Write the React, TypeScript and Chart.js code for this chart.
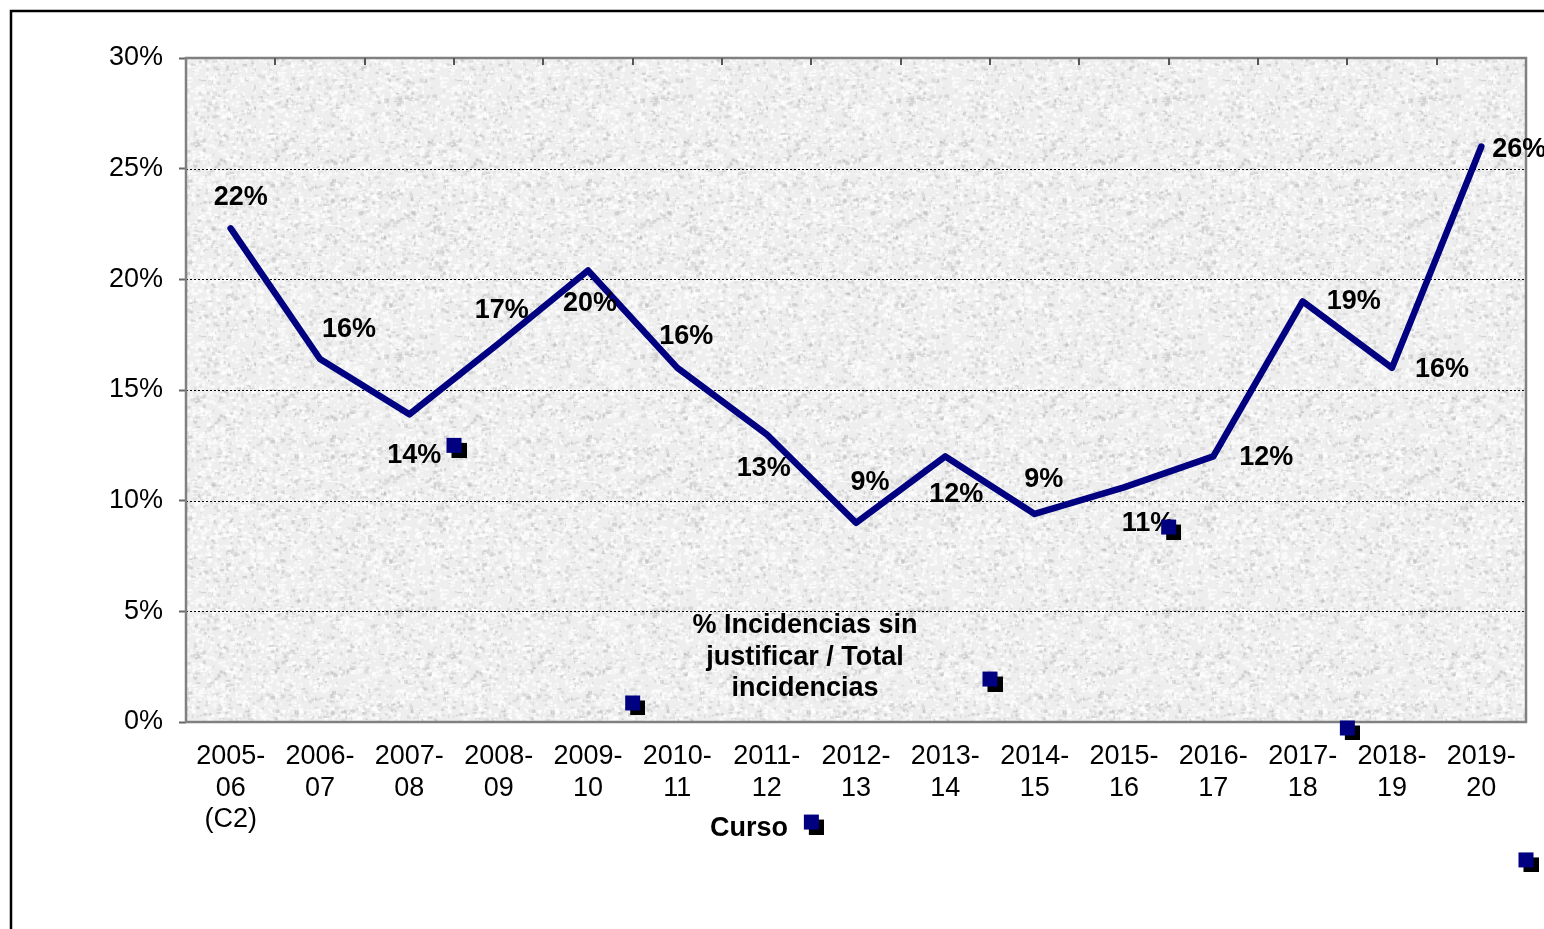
import React, { useEffect, useRef } from 'react';
import { Chart, registerables } from 'chart.js';

Chart.register(...registerables);

// ---- data ----
const categories: string[][] = [
  ['2005-', '06', '(C2)'],
  ['2006-', '07'],
  ['2007-', '08'],
  ['2008-', '09'],
  ['2009-', '10'],
  ['2010-', '11'],
  ['2011-', '12'],
  ['2012-', '13'],
  ['2013-', '14'],
  ['2014-', '15'],
  ['2015-', '16'],
  ['2016-', '17'],
  ['2017-', '18'],
  ['2018-', '19'],
  ['2019-', '20'],
];
const pctValues = [22.3, 16.4, 13.9, 17.1, 20.4, 16.0, 13.0, 9.0, 12.0, 9.4, 10.6, 12.0, 19.0, 16.0, 26.0];
const yTickValues = [0, 5, 10, 15, 20, 25, 30];
// stray legend-key squares (Excel artefacts), in category-index / percent units
const markerX = [2.5, 4.5, 6.5, 8.5, 10.5, 12.5, 14.5];
const markerY = [12.5, 0.86, -4.52, 1.94, 8.81, -0.27, -6.23];
const yTitleLines = ['% Incidencias sin', 'justificar / Total', 'incidencias'];
const xTitle = 'Curso';

// ---- layout (label offsets from their points, in px) ----
const labelOffsets: number[][] = [
  [10, -31], [29, -29], [5, 41], [3, -33], [2, 33], [9, -31], [-3, 34], [14, -40],
  [11, 38], [9, -34], [24, 36], [53, 1], [51, 0], [50, 2], [38, 3],
];

const FONT = '"Liberation Sans", Arial, sans-serif';

function makeTexture(): HTMLCanvasElement {
  const c = document.createElement('canvas');
  c.width = 256;
  c.height = 256;
  const g = c.getContext('2d')!;
  g.fillStyle = '#eeeeee';
  g.fillRect(0, 0, 256, 256);
  let s = 97;
  const rnd = () => {
    s = (s * 16807) % 2147483647;
    return s / 2147483647;
  };
  for (let i = 0; i < 5000; i++) {
    const x = rnd() * 256;
    const y = rnd() * 256;
    const r = rnd();
    if (r < 0.65) g.fillStyle = 'rgba(255,255,255,0.65)';
    else if (r < 0.92) g.fillStyle = 'rgba(190,190,190,0.35)';
    else g.fillStyle = 'rgba(150,150,150,0.3)';
    g.fillRect(x, y, 1 + rnd() * 4, 1 + rnd() * 3);
  }
  return c;
}

function makeMarker(): HTMLCanvasElement {
  const c = document.createElement('canvas');
  c.width = 25;
  c.height = 25;
  const g = c.getContext('2d')!;
  g.fillStyle = '#000000';
  g.fillRect(10, 10, 15, 15);
  g.fillStyle = '#000080';
  g.fillRect(5, 5, 15, 15);
  return c;
}

export default function App() {
  const ref = useRef<HTMLCanvasElement | null>(null);

  useEffect(() => {
    document.body.style.margin = '0';
    const canvas = ref.current!;
    const texture = makeTexture();
    const marker = makeMarker();

    const decor = {
      id: 'decor',
      beforeDraw(chart: any) {
        const { ctx, width, height } = chart;
        const { left, top, right, bottom } = chart.chartArea;
        ctx.save();
        ctx.fillStyle = '#ffffff';
        ctx.fillRect(0, 0, width, height);
        ctx.strokeStyle = '#000000';
        ctx.lineWidth = 2.5;
        ctx.beginPath();
        ctx.moveTo(11, height);
        ctx.lineTo(11, 11);
        ctx.lineTo(width, 11);
        ctx.stroke();
        const pat = ctx.createPattern(texture, 'repeat');
        ctx.fillStyle = pat || '#eeeeee';
        ctx.fillRect(left, top, right - left, bottom - top);
        ctx.restore();
      },
      beforeDatasetsDraw(chart: any) {
        const { ctx } = chart;
        const { left, top, right, bottom } = chart.chartArea;
        const ys = chart.scales.y;
        const xs = chart.scales.x;
        ctx.save();
        // dotted gridlines
        ctx.strokeStyle = '#000000';
        ctx.lineWidth = 1;
        ctx.setLineDash([2, 2]);
        yTickValues.forEach((v) => {
          if (v === yTickValues[0] || v === yTickValues[yTickValues.length - 1]) return;
          const y = Math.round(ys.getPixelForValue(v)) + 0.5;
          ctx.beginPath();
          ctx.moveTo(left, y);
          ctx.lineTo(right, y);
          ctx.stroke();
        });
        ctx.setLineDash([]);
        // plot border
        ctx.strokeStyle = '#808080';
        ctx.lineWidth = 2.5;
        ctx.strokeRect(left, top, right - left, bottom - top);
        // top tick marks at category boundaries
        ctx.strokeStyle = '#555555';
        ctx.lineWidth = 2;
        for (let i = 1; i < categories.length; i++) {
          const x = Math.round((xs.getPixelForValue(i - 1) + xs.getPixelForValue(i)) / 2);
          ctx.beginPath();
          ctx.moveTo(x, top);
          ctx.lineTo(x, top + 7);
          ctx.stroke();
        }
        ctx.restore();
      },
      afterDatasetDraw(chart: any, args: any) {
        if (args.index !== 0) return;
        const { ctx } = chart;
        const meta = chart.getDatasetMeta(0);
        ctx.save();
        ctx.fillStyle = '#000000';
        ctx.font = `bold 27px ${FONT}`;
        ctx.textAlign = 'center';
        ctx.textBaseline = 'middle';
        meta.data.forEach((pt: any, i: number) => {
          const [dx, dy] = labelOffsets[i];
          ctx.fillText(Math.round(pctValues[i]) + '%', pt.x + dx, pt.y + dy);
        });
        // titles
        ctx.font = `bold 27px ${FONT}`;
        const lh = 31.5;
        yTitleLines.forEach((t, i) => ctx.fillText(t, 805, 626 + i * lh));
        ctx.fillText(xTitle, 749, 829);
        ctx.restore();
      },
    };

    const chart = new Chart(canvas, {
      type: 'line',
      data: {
        labels: categories as any,
        datasets: [
          {
            type: 'line',
            data: pctValues,
            borderColor: '#000080',
            borderWidth: 6.5,
            pointRadius: 0,
            tension: 0,
            fill: false,
            borderJoinStyle: 'round',
            borderCapStyle: 'round',
            order: 1,
            xAxisID: 'x',
            yAxisID: 'y',
          } as any,
          {
            type: 'scatter',
            data: markerX.map((x, i) => ({ x, y: markerY[i] })),
            pointStyle: marker,
            pointRadius: 200,
            pointHoverRadius: 200,
            borderWidth: 0,
            clip: false,
            order: 0,
            xAxisID: 'x2',
            yAxisID: 'y',
          } as any,
        ],
      },
      options: {
        animation: false,
        responsive: false,
        devicePixelRatio: 1,
        events: [],
        layout: { autoPadding: false, padding: { top: 58, right: 18, left: 0, bottom: 0 } },
        plugins: {
          legend: { display: false },
          tooltip: { enabled: false },
          title: { display: false },
        },
        scales: {
          x: {
            type: 'category',
            offset: true,
            grid: { display: false, drawTicks: false, drawOnChartArea: false },
            border: { display: false },
            ticks: {
              color: '#000000',
              font: { family: FONT, size: 27, lineHeight: 1.167 },
              padding: 19,
              maxRotation: 0,
              minRotation: 0,
              autoSkip: false,
            },
            afterFit(scale: any) {
              scale.height = 207;
            },
          },
          x2: {
            type: 'linear',
            display: false,
            min: -0.5,
            max: 14.5,
          },
          y: {
            type: 'linear',
            min: 0,
            max: 30,
            grid: {
              drawOnChartArea: false,
              drawTicks: true,
              tickLength: 7,
              tickColor: '#666666',
              tickWidth: 2,
            },
            border: { display: false },
            afterBuildTicks(scale: any) {
              scale.ticks = yTickValues.map((v) => ({ value: v }));
            },
            ticks: {
              color: '#000000',
              font: { family: FONT, size: 27 },
              padding: 16,
              callback: (v: any) => `${v}%`,
            },
            afterFit(scale: any) {
              scale.width = 186;
            },
          },
        },
      } as any,
      plugins: [decor],
    });

    return () => chart.destroy();
  }, []);

  return (
    <div style={{ width: 1544, height: 929 }}>
      <canvas ref={ref} width={1544} height={929} style={{ display: 'block' }} />
    </div>
  );
}
